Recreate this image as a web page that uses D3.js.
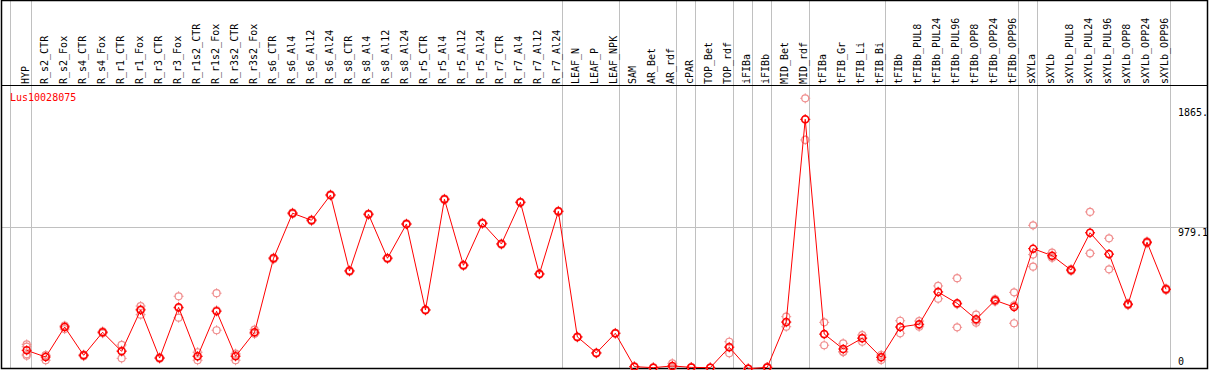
<!DOCTYPE html>
<html>
<head>
<meta charset="utf-8">
<script src="https://cdn.jsdelivr.net/npm/d3@7"></script>
<style>
  html, body { margin: 0; padding: 0; background: #fff; }
  svg { display: block; }
  text { font-family: "DejaVu Sans Mono", "Liberation Mono", monospace; font-size: 10px; }
</style>
</head>
<body>
<svg id="chart" width="1209" height="370"></svg>
<script>
const categories = ["HYP","R_s2_CTR","R_s2_Fox","R_s4_CTR","R_s4_Fox","R_r1_CTR","R_r1_Fox","R_r3_CTR","R_r3_Fox",
  "R_r1s2_CTR","R_r1s2_Fox","R_r3s2_CTR","R_r3s2_Fox","R_s6_CTR","R_s6_Al4","R_s6_Al12","R_s6_Al24",
  "R_s8_CTR","R_s8_Al4","R_s8_Al12","R_s8_Al24","R_r5_CTR","R_r5_Al4","R_r5_Al12","R_r5_Al24",
  "R_r7_CTR","R_r7_Al4","R_r7_Al12","R_r7_Al24","LEAF_N","LEAF_P","LEAF_NPK","SAM","AR_Bet","AR_rdf",
  "cPAR","TOP_Bet","TOP_rdf","iFIBa","iFIBb","MID_Bet","MID_rdf","tFIBa","tFIB_Gr","tFIB_Li","tFIB_Bi",
  "tFIBb","tFIBb_PUL8","tFIBb_PUL24","tFIBb_PUL96","tFIBb_OPP8","tFIBb_OPP24","tFIBb_OPP96","sXYLa",
  "sXYLb","sXYLb_PUL8","sXYLb_PUL24","sXYLb_PUL96","sXYLb_OPP8","sXYLb_OPP24","sXYLb_OPP96"];

const meanValues = [135,89,295,101,259,128,412,82,430,94,403,94,259,767,1076,1028,1201,680,1069,767,1002,
  412,1172,719,1007,865,1151,659,1089,227,117,252,23,16,28,18,16,156,9,18,330,1721,247,144,218,87,
  295,314,535,458,348,478,432,833,785,686,942,796,451,877,554];

const replicateValues = [
  [176,160,108,98],[98,67,102],[304,281,300],[101,95,106],[259,252,265],[172,80,133],[439,380,417],
  [82,78,87],[506,359,425],[122,67,94],[527,273,410],[112,67,103],[277,250,249],[770,760,771],
  [1080,1070,1078],[1030,1022,1032],[1205,1196,1202],[684,675,681],[1072,1064,1071],[770,762,769],
  [1006,998,1002],[415,408,413],[1176,1167,1173],[722,714,721],[1011,1003,1007],[868,860,867],
  [1155,1147,1151],[662,655,660],[1093,1085,1089],[230,223,228],[119,114,118],[255,249,252],
  [23,20,25],[16,14,18],[46,18,19],[18,17,20],[16,15,17],[194,115,159],[9,8,10],[18,16,21],
  [366,297,326],[1865,1579,1719],[327,170,244],[183,126,123],[240,194,220],[103,69,89],
  [338,252,295],[336,297,309],[577,489,539],[630,293,451],[380,325,339],[478,470,487],[533,321,444],
  [993,792,709],[805,770,779],[686,680,693],[1085,801,942],[904,691,793],[451,445,457],[877,870,883],
  [554,548,560]];

const groupEnds = ["HYP","R_r7_Al24","LEAF_NPK","AR_rdf","cPAR","TOP_rdf","iFIBa","iFIBb","MID_rdf",
  "tFIB_Bi","tFIBb_OPP96","sXYLa","sXYLb_OPP96"];

const yTickValues = [1865, 979.1, 0];
const yTickLabels = ["1865.", "979.1", "0"];
const gridValues = [979.1];
const title = "Lus10028075";

const svg = d3.select("#chart");

const x = d3.scalePoint().domain(categories).range([26.7, 1166]);
const y = d3.scaleLinear().domain([0, 1865]).range([370, 98.3]);
const snap = v => Math.round(v) + 0.5;

const plotTop = 85.5, plotBottom = 368.5, leftEdge = 1.5, rightEdge = 1207.5;

// vertical group separators
const vLines = [x(categories[0]) - 16.5].concat(groupEnds.map(c => x(c) + 4));
svg.append("g").selectAll("line").data(vLines).join("line")
  .attr("x1", d => snap(d)).attr("x2", d => snap(d))
  .attr("y1", 0).attr("y2", plotBottom)
  .attr("stroke", "#c0c0c0").attr("stroke-width", 1);

// horizontal grid
svg.append("g").selectAll("line").data(gridValues).join("line")
  .attr("x1", leftEdge).attr("x2", rightEdge)
  .attr("y1", d => snap(y(d))).attr("y2", d => snap(y(d)))
  .attr("stroke", "#c0c0c0").attr("stroke-width", 1);

// header separator and border
svg.append("line").attr("x1", leftEdge).attr("x2", rightEdge)
  .attr("y1", plotTop).attr("y2", plotTop).attr("stroke", "#000").attr("stroke-width", 1.2);
svg.append("rect").attr("x", leftEdge).attr("y", 0.5)
  .attr("width", rightEdge - leftEdge).attr("height", plotBottom - 0.5)
  .attr("fill", "none").attr("stroke", "#000").attr("stroke-width", 1.5);

// category labels (rotated)
svg.append("g").selectAll("text").data(categories).join("text")
  .attr("transform", d => `translate(${Math.round(x(d) + 2)},84) rotate(-90)`)
  .attr("text-anchor", "start")
  .attr("fill", "#000")
  .text(d => d);

// title
svg.append("text").attr("x", 10).attr("y", 101).attr("fill", "#ff0000").text(title);

// right value labels
svg.append("g").selectAll("text").data(yTickValues).join("text")
  .attr("x", 1178)
  .attr("y", d => Math.max(116, Math.min(y(d) + 9, 365)))
  .attr("fill", "#000")
  .text((d, i) => yTickLabels[i]);

function marker(g, color, sw) {
  const r = 3.5;
  g.append("circle").attr("r", r).attr("fill", "none").attr("stroke", color).attr("stroke-width", sw);
  [[0,-1],[0,1],[-1,0],[1,0]].forEach(([dx, dy]) => {
    g.append("line")
      .attr("x1", dx * (r - 0.5)).attr("y1", dy * (r - 0.5))
      .attr("x2", dx * (r + 1.5)).attr("y2", dy * (r + 1.5))
      .attr("stroke", color).attr("stroke-width", 1);
  });
}

// replicate points
const reps = [];
replicateValues.forEach((arr, i) => arr.forEach(v => reps.push({c: categories[i], v})));
svg.append("g").selectAll("g").data(reps).join("g")
  .attr("transform", d => `translate(${x(d.c)},${y(d.v)})`)
  .each(function() { marker(d3.select(this), "#f09090", 1.2); });

// mean line
const pts = categories.map((c, i) => ({c, v: meanValues[i]}));
svg.append("path").datum(pts)
  .attr("d", d3.line().x(d => x(d.c)).y(d => y(d.v)))
  .attr("fill", "none").attr("stroke", "#ff0000").attr("stroke-width", 1);

// mean points
svg.append("g").selectAll("g").data(pts).join("g")
  .attr("transform", d => `translate(${x(d.c)},${y(d.v)})`)
  .each(function() { marker(d3.select(this), "#ff0000", 1.5); });
</script>
</body>
</html>
